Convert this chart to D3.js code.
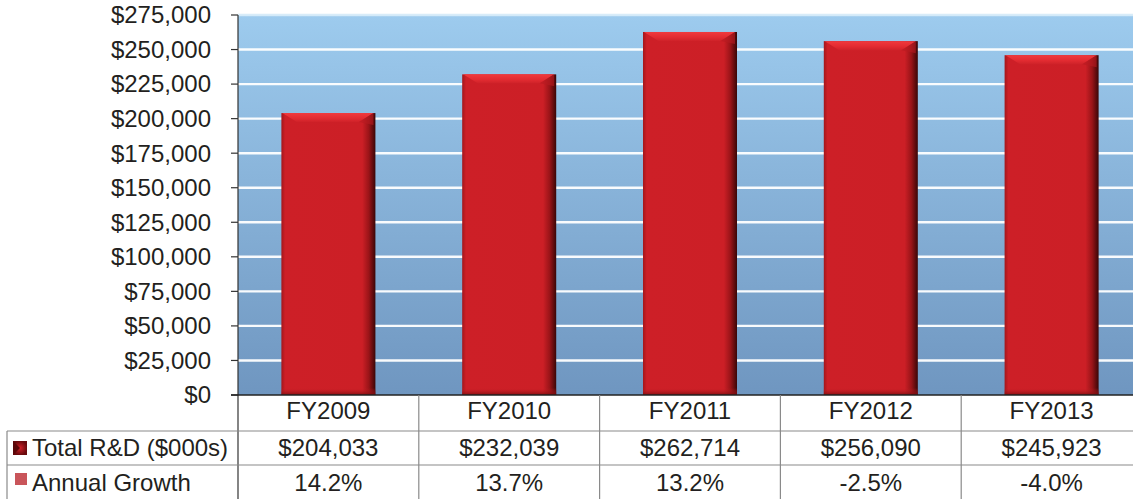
<!DOCTYPE html>
<html><head><meta charset="utf-8">
<script src="https://cdn.jsdelivr.net/npm/d3@7"></script>
<style>
html,body{margin:0;padding:0;background:#fff;overflow:hidden}
svg{display:block;font-family:"Liberation Sans",Arial,sans-serif}
</style></head>
<body>
<script>
const categories = ["FY2009","FY2010","FY2011","FY2012","FY2013"];
const totalRD = [204033,232039,262714,256090,245923];
const growthLabels = ["14.2%","13.7%","13.2%","-2.5%","-4.0%"];
const yTicks = [0,25000,50000,75000,100000,125000,150000,175000,200000,225000,250000,275000];
const seriesNames = ["Total R&D ($000s)","Annual Growth"];

const W=1133,H=499,FS=24;
const svg=d3.select("body").append("svg").attr("width",W).attr("height",H);
const defs=svg.append("defs");

const plotL=238, plotR=1142, plotT=15, plotB=395;
const x=d3.scaleBand().domain(categories).range([plotL,plotR]).paddingInner(0.48).paddingOuter(0.24);
const xCol=d3.scaleBand().domain(categories).range([plotL,plotR]);
const y=d3.scaleLinear().domain([0,275000]).range([plotB,plotT]);

// background gradient
const bg=defs.append("linearGradient").attr("id","bg").attr("x1",0).attr("y1",0).attr("x2",0).attr("y2",1);
bg.append("stop").attr("offset","0%").attr("stop-color","#9dcbee");
bg.append("stop").attr("offset","100%").attr("stop-color","#6f96c0");
svg.append("rect").attr("x",plotL).attr("y",plotT).attr("width",plotR-plotL).attr("height",plotB-plotT).attr("fill","url(#bg)");

// gridlines
svg.append("g").selectAll("line").data(yTicks.filter(d=>d>0)).join("line")
  .attr("x1",plotL).attr("x2",plotR).attr("y1",d=>y(d)).attr("y2",d=>y(d))
  .attr("stroke",d=>d===275000?"#d6ebf9":"#ffffff").attr("stroke-width",2.4).attr("stroke-opacity",0.95);

// bar gradients
const bh=defs.append("linearGradient").attr("id","barH").attr("x1",0).attr("y1",0).attr("x2",1).attr("y2",0);
[["0%","#a3161b"],["4%","#cd1f27"],["86%","#cc1f26"],["93%","#9a1418"],["100%","#3a0607"]].forEach(s=>bh.append("stop").attr("offset",s[0]).attr("stop-color",s[1]));
const bv=defs.append("linearGradient").attr("id","barTop").attr("x1",0).attr("y1",0).attr("x2",0).attr("y2",1);
[["0%","#f03a3e"],["60%","#e22b31"],["100%","#cf2229"]].forEach(s=>bv.append("stop").attr("offset",s[0]).attr("stop-color",s[1]));
const bb=defs.append("linearGradient").attr("id","barBot").attr("x1",0).attr("y1",0).attr("x2",0).attr("y2",1);
[["0%","#cc1f26","0"],["100%","#7a0d10","0.9"]].forEach(s=>bb.append("stop").attr("offset",s[0]).attr("stop-color",s[1]).attr("stop-opacity",s[2]));

const bars=svg.append("g").selectAll("g").data(categories).join("g");
const bw=x.bandwidth();
bars.append("rect").attr("x",d=>x(d)).attr("y",(d,i)=>y(totalRD[i])).attr("width",bw)
  .attr("height",(d,i)=>plotB-y(totalRD[i])).attr("fill","url(#barH)");
bars.append("path").attr("fill","url(#barTop)").attr("d",(d,i)=>{
  const x0=x(d),y0=y(totalRD[i]),b=9;
  return `M${x0+1},${y0}L${x0+bw-2},${y0}L${x0+bw-2-b*1.6},${y0+b}L${x0+1+b*1.6},${y0+b}Z`;});
bars.append("path").attr("fill","#b81b21").attr("opacity",0.6).attr("d",(d,i)=>{
  const x0=x(d),y0=y(totalRD[i]),b=9;
  return `M${x0+bw-2},${y0}L${x0+bw-2},${y0+b+3}L${x0+bw-2-b*1.6},${y0+b}Z`;});
bars.append("rect").attr("x",d=>x(d)).attr("y",plotB-7).attr("width",bw).attr("height",7).attr("fill","url(#barBot)");

// y axis
const ax=svg.append("g");
ax.append("line").attr("x1",plotL).attr("x2",plotL).attr("y1",plotT).attr("y2",H).attr("stroke","#333").attr("stroke-width",1.2);
ax.selectAll("line.t").data(yTicks).join("line").attr("class","t")
  .attr("x1",plotL-7).attr("x2",plotL).attr("y1",d=>y(d)).attr("y2",d=>y(d)).attr("stroke","#333").attr("stroke-width",1.2);
ax.selectAll("text").data(yTicks).join("text")
  .attr("x",211).attr("y",d=>y(d)).attr("dy","0.35em").attr("text-anchor","end")
  .attr("font-size",FS).attr("fill","#231f20").text(d=>"$"+d3.format(",")(d));
svg.append("line").attr("x1",plotL-7).attr("x2",W).attr("y1",plotB).attr("y2",plotB).attr("stroke","#222").attr("stroke-width",1.3);

// table
const tg=svg.append("g");
tg.selectAll("line.v").data(categories).join("line").attr("class","v")
  .attr("x1",d=>xCol(d)+xCol.bandwidth()).attr("x2",d=>xCol(d)+xCol.bandwidth())
  .attr("y1",plotB).attr("y2",H).attr("stroke","#8a8a8a").attr("stroke-width",1.2);
tg.append("line").attr("x1",7).attr("x2",7).attr("y1",431).attr("y2",H).attr("stroke","#8a8a8a").attr("stroke-width",1.2);
[431,465].forEach(v=>tg.append("line").attr("x1",7).attr("x2",W).attr("y1",v).attr("y2",v).attr("stroke","#8a8a8a").attr("stroke-width",1.2));
tg.selectAll("text.c").data(categories).join("text").attr("class","c")
  .attr("x",d=>xCol(d)+xCol.bandwidth()/2).attr("y",411).attr("dy","0.35em").attr("text-anchor","middle")
  .attr("font-size",FS).attr("fill","#231f20").text(d=>d);
tg.selectAll("text.v1").data(totalRD).join("text").attr("class","v1")
  .attr("x",(d,i)=>xCol(categories[i])+xCol.bandwidth()/2).attr("y",448).attr("dy","0.35em").attr("text-anchor","middle")
  .attr("font-size",FS).attr("fill","#231f20").text(d=>"$"+d3.format(",")(d));
tg.selectAll("text.v2").data(growthLabels).join("text").attr("class","v2")
  .attr("x",(d,i)=>xCol(categories[i])+xCol.bandwidth()/2).attr("y",483).attr("dy","0.35em").attr("text-anchor","middle")
  .attr("font-size",FS).attr("fill","#231f20").text(d=>d);

// legend keys
const lk=defs.append("radialGradient").attr("id","lk");
lk.append("stop").attr("offset","0%").attr("stop-color","#d42129");
lk.append("stop").attr("offset","100%").attr("stop-color","#6a0a0d");
tg.append("rect").attr("x",13).attr("y",441).attr("width",14).attr("height",14).attr("fill","url(#lk)");
tg.append("path").attr("d","M13,441L20,448L13,455Z").attr("fill","#5a0709");
tg.append("rect").attr("x",15).attr("y",473).attr("width",12).attr("height",12).attr("fill","#c9555a");
tg.selectAll("text.l").data(seriesNames).join("text").attr("class","l")
  .attr("x",32).attr("y",(d,i)=>i===0?448:483).attr("dy","0.35em")
  .attr("font-size",FS).attr("fill","#231f20").text(d=>d);
</script>
</body></html>
